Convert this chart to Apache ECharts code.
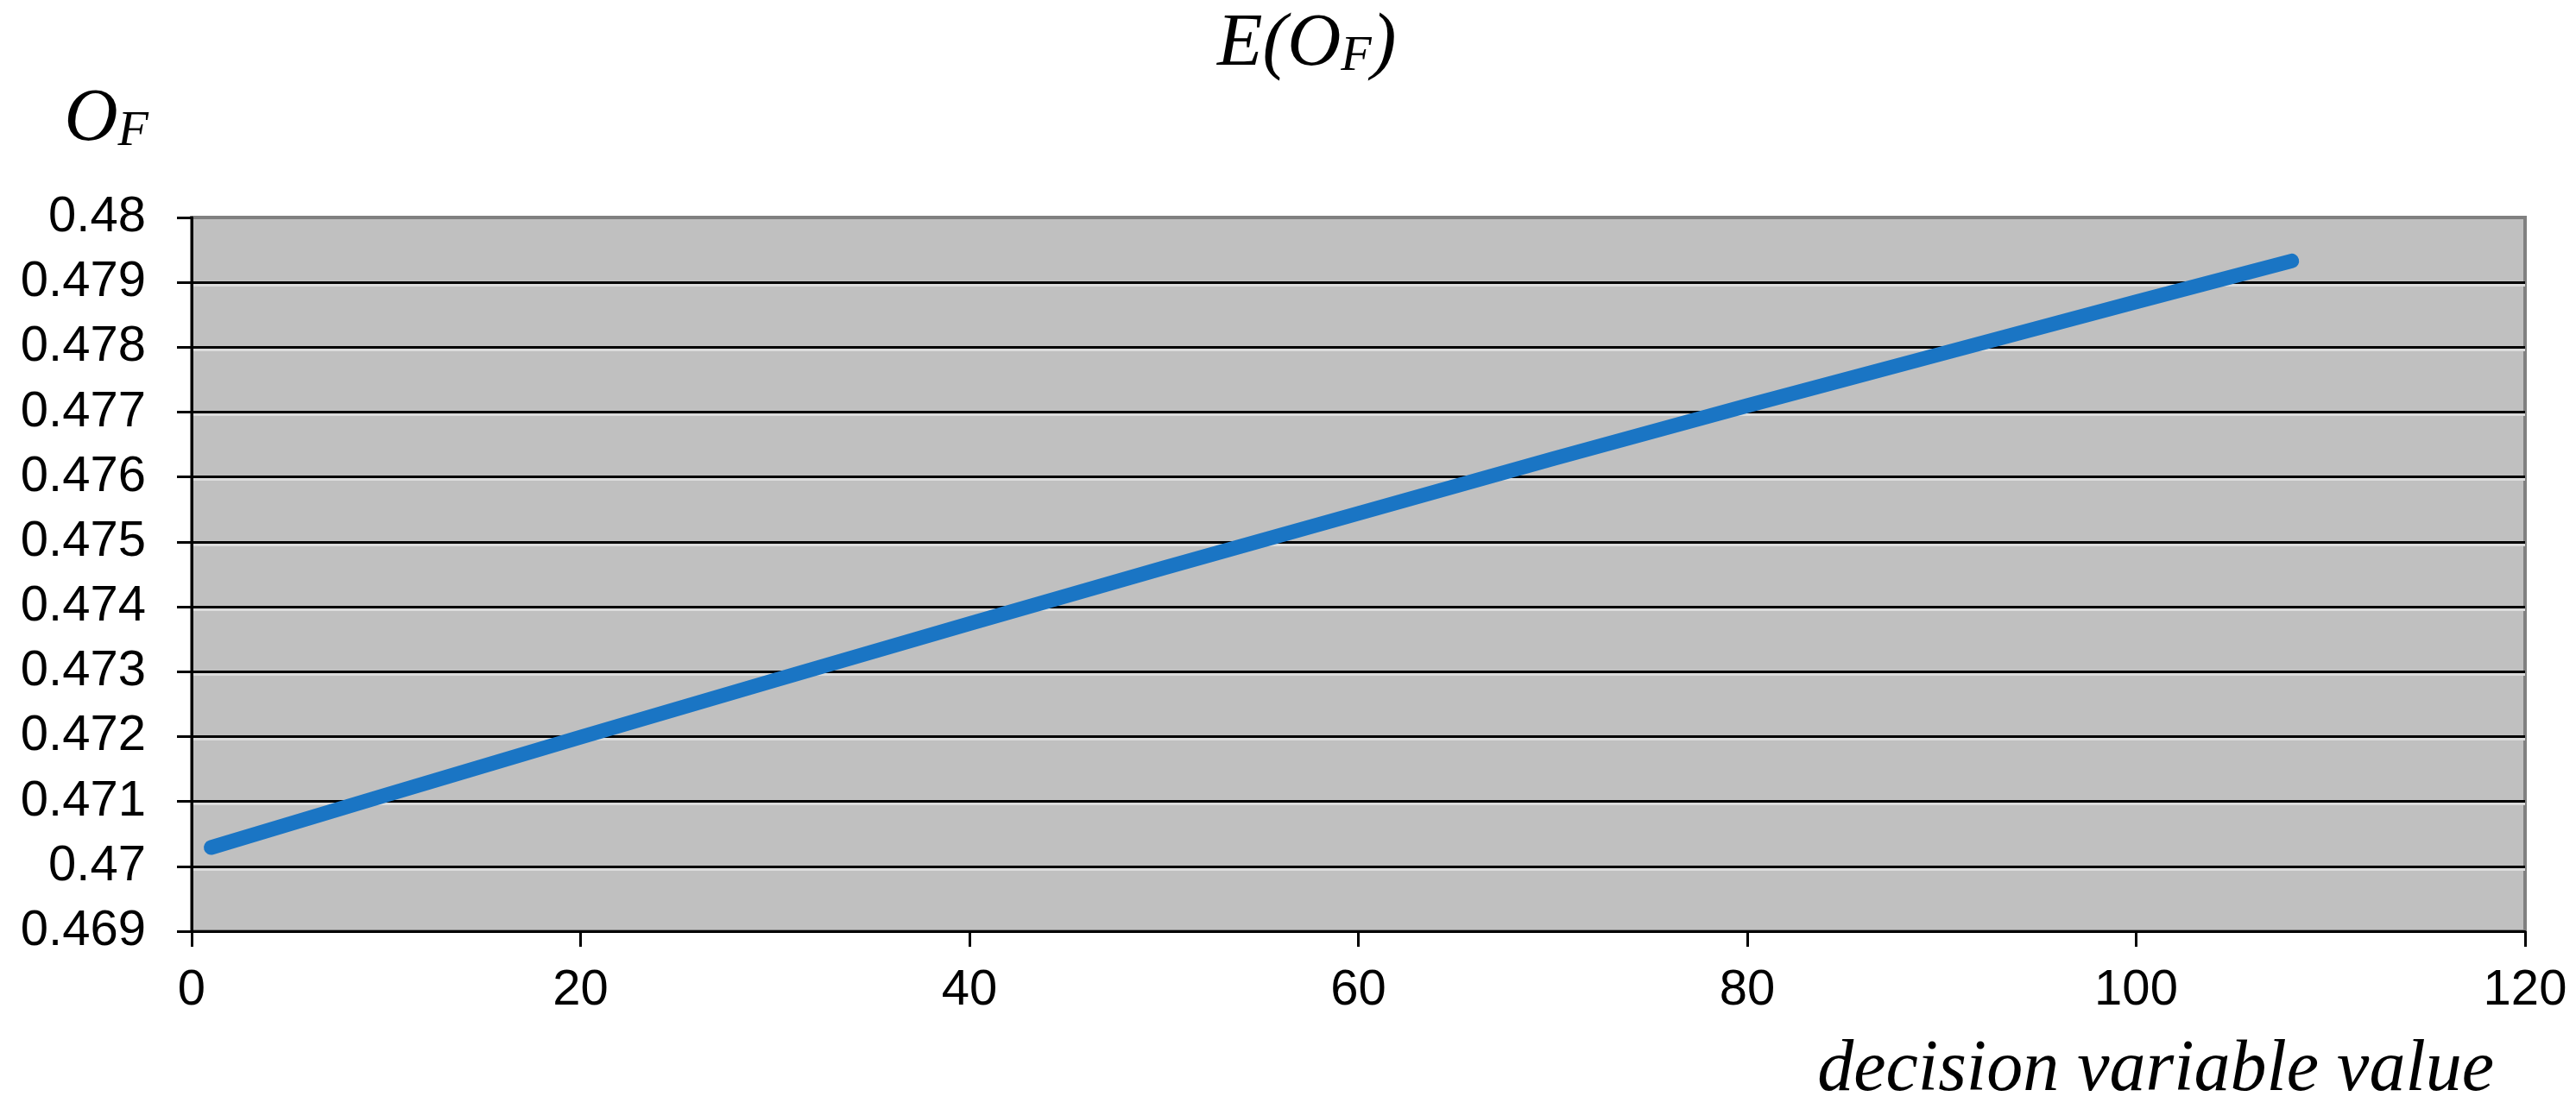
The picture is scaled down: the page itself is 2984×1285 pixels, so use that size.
<!DOCTYPE html>
<html>
<head>
<meta charset="utf-8">
<script src="https://cdn.jsdelivr.net/npm/echarts@6/dist/echarts.min.js"></script>
<style>
  html, body { margin: 0; padding: 0; background: #fff; }
  #chart { width: 2984px; height: 1285px; }
</style>
</head>
<body>
<div id="chart"></div>
<script>
// values
const xValues = [1, 10, 20, 30, 40, 50, 60, 70, 80, 90, 100, 108];
const ofValues = [0.47029, 0.47110, 0.47199, 0.47287, 0.47374, 0.47460, 0.47544, 0.47628, 0.47710, 0.47790, 0.47870, 0.47933];
const xTicks = [0, 20, 40, 60, 80, 100, 120];
const yTicks = [0.469, 0.47, 0.471, 0.472, 0.473, 0.474, 0.475, 0.476, 0.477, 0.478, 0.479, 0.48];

const serif = "'Liberation Serif', 'Times New Roman', serif";
const sans = "'Liberation Sans', Arial, sans-serif";

var myChart = echarts.init(document.getElementById('chart'));

var option = {
  animation: false,
  title: {
    left: 1405,
    top: 4,
    text: '{n|E(O}{s|F}{n|)}',
    textStyle: {
      fontWeight: 'normal',
      rich: {
        n: { fontFamily: serif, fontStyle: 'italic', fontWeight: 'normal', fontSize: 86, color: '#000' },
        s: { fontFamily: serif, fontStyle: 'italic', fontWeight: 'normal', fontSize: 58, color: '#000', verticalAlign: 'bottom' }
      }
    }
  },
  grid: {
    left: 222,
    right: 59,
    top: 252,
    bottom: 206,
    show: true,
    backgroundColor: '#c0c0c0',
    borderColor: '#808080',
    borderWidth: 4
  },
  xAxis: {
    type: 'value',
    min: xTicks[0],
    max: xTicks[xTicks.length - 1],
    interval: 20,
    name: 'decision variable value',
    nameLocation: 'end',
    nameGap: -36,
    nameTextStyle: {
      fontFamily: serif,
      fontStyle: 'italic',
      fontSize: 84,
      color: '#000',
      align: 'right',
      verticalAlign: 'top',
      padding: [120, 0, 0, 0]
    },
    axisLine: { show: true, lineStyle: { color: '#000', width: 3 } },
    axisTick: { show: true, inside: false, length: 18, lineStyle: { color: '#000', width: 3 } },
    axisLabel: { fontFamily: sans, fontSize: 58, color: '#000', margin: 40 },
    splitLine: { show: false }
  },
  yAxis: {
    type: 'value',
    min: yTicks[0],
    max: yTicks[yTicks.length - 1],
    interval: 0.001,
    name: '{n|O}{s|F}',
    nameLocation: 'end',
    nameGap: 70,
    nameTextStyle: {
      align: 'right',
      padding: [0, 50, 0, 0],
      rich: {
        n: { fontFamily: serif, fontStyle: 'italic', fontSize: 86, color: '#000' },
        s: { fontFamily: serif, fontStyle: 'italic', fontSize: 58, color: '#000', verticalAlign: 'bottom' }
      }
    },
    axisLine: { show: true, lineStyle: { color: '#000', width: 3 } },
    axisTick: { show: true, inside: false, length: 17, lineStyle: { color: '#000', width: 3 } },
    axisLabel: {
      fontFamily: sans, fontSize: 58, color: '#000', margin: 53,
      formatter: function (v) { return String(+v.toFixed(3)); }
    },
    splitLine: {
      show: true,
      showMinLine: false,
      showMaxLine: false,
      lineStyle: { color: '#000', width: 3, shadowColor: '#dcdcdc', shadowOffsetY: 3, shadowBlur: 0 }
    }
  },
  series: [
    {
      name: 'E(OF)',
      type: 'line',
      showSymbol: false,
      symbol: 'none',
      lineStyle: { color: '#1a75c4', width: 17, cap: 'round', join: 'round' },
      data: xValues.map((x, i) => [x, ofValues[i]])
    }
  ]
};

myChart.setOption(option);
</script>
</body>
</html>
